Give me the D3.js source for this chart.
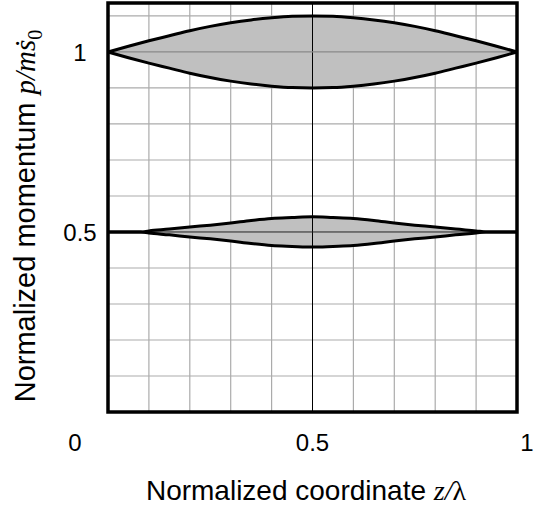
<!DOCTYPE html>
<html><head><meta charset="utf-8">
<script src="https://cdn.jsdelivr.net/npm/d3@7"></script>
<style>html,body{margin:0;padding:0;background:#fff;}</style>
</head><body>
<script>
// ---- data ----
const xTicks = [0, 0.5, 1];
const xTickLabels = ["0", "0.5", "1"];
const yTicks = [0.5, 1];
const yTickLabels = ["0.5", "1"];
const gridX = [0.1, 0.2, 0.3, 0.4, 0.6, 0.7, 0.8, 0.9];
const gridY = [0.1, 0.2, 0.3, 0.4, 0.6, 0.7, 0.8, 0.9, 1.0, 1.1];
// upper bucket (centre p = 1)
const upperZ = [0, 0.05, 0.1, 0.15, 0.2, 0.25, 0.3, 0.35, 0.4, 0.45, 0.5, 0.55, 0.6, 0.65, 0.7, 0.75, 0.8, 0.85, 0.9, 0.95, 1];
const upperTop = [1, 1.016, 1.031, 1.045, 1.059, 1.071, 1.081, 1.089, 1.095, 1.099, 1.1, 1.099, 1.095, 1.089, 1.081, 1.071, 1.059, 1.045, 1.031, 1.016, 1];
const upperBot = [1, 0.984, 0.969, 0.955, 0.941, 0.929, 0.919, 0.911, 0.905, 0.901, 0.9, 0.901, 0.905, 0.911, 0.919, 0.929, 0.941, 0.955, 0.969, 0.984, 1];
// lower bucket (centre p = 0.5)
const lowerZ = [0, 0.08, 0.1, 0.15, 0.2, 0.25, 0.3, 0.35, 0.4, 0.45, 0.5, 0.55, 0.6, 0.65, 0.7, 0.75, 0.8, 0.85, 0.9, 0.925, 1];
const lowerTop = [0.5, 0.5, 0.503, 0.508, 0.514, 0.519, 0.525, 0.532, 0.5375, 0.540, 0.542, 0.540, 0.5375, 0.532, 0.525, 0.519, 0.514, 0.508, 0.503, 0.5, 0.5];
const lowerBot = [0.5, 0.5, 0.497, 0.492, 0.486, 0.481, 0.475, 0.468, 0.4625, 0.460, 0.458, 0.460, 0.4625, 0.468, 0.475, 0.481, 0.486, 0.492, 0.497, 0.5, 0.5];
const yMax = 1.136;

// ---- layout ----
const W = 534, H = 506;
const L = 108, R = 517, T = 3, B = 412;
const svg = d3.select("body").append("svg").attr("width", W).attr("height", H);
const x = d3.scaleLinear().domain([0, 1]).range([L, R]);
const y = d3.scaleLinear().domain([0, yMax]).range([B, T]);

// grid
svg.append("g").selectAll("line").data(gridX).join("line")
  .attr("x1", d => x(d)).attr("x2", d => x(d)).attr("y1", T).attr("y2", B)
  .attr("stroke", "#ababab").attr("stroke-width", 1.2);
svg.append("g").selectAll("line").data(gridY).join("line")
  .attr("y1", d => y(d)).attr("y2", d => y(d)).attr("x1", L).attr("x2", R)
  .attr("stroke", "#ababab").attr("stroke-width", 1.2);

function bucket(zs, top, bot) {
  const pts = zs.map((z, i) => ({z, t: top[i], b: bot[i]}));
  const area = d3.area().x(d => x(d.z)).y0(d => y(d.b)).y1(d => y(d.t)).curve(d3.curveMonotoneX);
  svg.append("path").datum(pts).attr("d", area).attr("fill", "#c0c0c0");
  return pts;
}
const up = bucket(upperZ, upperTop, upperBot);
const lo = bucket(lowerZ, lowerTop, lowerBot);

// inner reference lines (drawn over fill)
svg.append("line").attr("x1", x(0.5)).attr("x2", x(0.5)).attr("y1", T).attr("y2", B)
  .attr("stroke", "#000").attr("stroke-width", 1);
svg.append("line").attr("x1", L).attr("x2", R).attr("y1", y(0.5)).attr("y2", y(0.5))
  .attr("stroke", "#222").attr("stroke-width", 1);
svg.append("line").attr("x1", L).attr("x2", R).attr("y1", y(1)).attr("y2", y(1))
  .attr("stroke", "#8a8a8a").attr("stroke-width", 1.2);

function outline(pts) {
  const lt = d3.line().x(d => x(d.z)).y(d => y(d.t)).curve(d3.curveMonotoneX);
  const lb = d3.line().x(d => x(d.z)).y(d => y(d.b)).curve(d3.curveMonotoneX);
  svg.append("path").datum(pts).attr("d", lt).attr("fill", "none").attr("stroke", "#000").attr("stroke-width", 3);
  svg.append("path").datum(pts).attr("d", lb).attr("fill", "none").attr("stroke", "#000").attr("stroke-width", 3);
}
outline(up);
outline(lo);

// frame
svg.append("rect").attr("x", L).attr("y", T).attr("width", R - L).attr("height", B - T)
  .attr("fill", "none").attr("stroke", "#000").attr("stroke-width", 3.5);

// tick labels
const font = "'Liberation Sans', Arial, Helvetica, sans-serif";
const serif = "'Liberation Serif', 'Times New Roman', serif";
svg.append("g").selectAll("text").data(yTicks).join("text")
  .attr("x", 80).attr("y", d => y(d)).attr("dy", "0.36em")
  .attr("text-anchor", "middle").attr("font-family", font).attr("font-size", 24)
  .text((d, i) => yTickLabels[i]);
const xLabelPos = [75, x(0.5), 527];
svg.append("g").selectAll("text").data(xTicks).join("text")
  .attr("x", (d, i) => xLabelPos[i]).attr("y", 451)
  .attr("text-anchor", "middle").attr("font-family", font).attr("font-size", 24)
  .text((d, i) => xTickLabels[i]);

// axis titles
const xt = svg.append("text").attr("x", 306).attr("y", 500).attr("text-anchor", "middle")
  .attr("font-family", font).attr("font-size", 28);
xt.append("tspan").text("Normalized coordinate ");
xt.append("tspan").attr("font-family", serif).attr("font-style", "italic").text("z/");
xt.append("tspan").attr("font-family", serif).text("λ");

const yt = svg.append("text").attr("transform", "translate(35,216) rotate(-90)").attr("text-anchor", "middle")
  .attr("font-family", font).attr("font-size", 29);
yt.append("tspan").text("Normalized momentum ");
yt.append("tspan").attr("font-family", serif).attr("font-style", "italic").text("p/mṡ");
yt.append("tspan").attr("font-family", serif).attr("font-size", 20).attr("dy", 7).text("0");
</script>
</body></html>
